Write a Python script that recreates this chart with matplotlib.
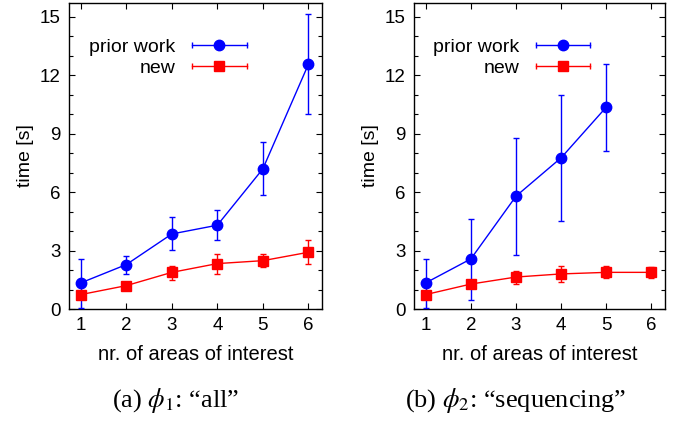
import numpy as np
import matplotlib.pyplot as plt
from matplotlib.lines import Line2D
from matplotlib.legend_handler import HandlerLine2D, HandlerTuple
from matplotlib.ticker import MultipleLocator

plt.rcParams['font.family'] = ['Liberation Sans', 'DejaVu Sans']
plt.rcParams['mathtext.fontset'] = 'stix'

areas = [1, 2, 3, 4, 5, 6]

# (a) phi_1 "all"
prior_a = [1.34, 2.28, 3.85, 4.30, 7.19, 12.55]
prior_a_lo = [0.05, 1.80, 3.05, 3.56, 5.87, 9.98]
prior_a_hi = [2.57, 2.74, 4.73, 5.07, 8.58, 15.12]
new_a = [0.74, 1.20, 1.88, 2.33, 2.48, 2.91]
new_a_lo = [0.55, 1.08, 1.51, 1.82, 2.14, 2.33]
new_a_hi = [0.92, 1.32, 2.23, 2.84, 2.84, 3.53]

# (b) phi_2 "sequencing"
areas_b = [1, 2, 3, 4, 5]
prior_b = [1.34, 2.57, 5.79, 7.76, 10.36]
prior_b_lo = [0.05, 0.48, 2.79, 4.54, 8.13]
prior_b_hi = [2.57, 4.62, 8.78, 10.98, 12.59]
new_b = [0.74, 1.28, 1.64, 1.80, 1.88, 1.88]
new_b_lo = [0.55, 1.12, 1.30, 1.39, 1.59, 1.59]
new_b_hi = [0.92, 1.44, 1.93, 2.19, 2.19, 2.14]

captions = [r'(a) $\phi_1$: “all”', r'(b) $\phi_2$: “sequencing”']

BLUE = '#0000ff'
RED = '#ff0000'

fig = plt.figure(figsize=(6.85, 4.23), dpi=100)
ax_a = fig.add_axes([69/685, 1 - 309/423, 253/685, 306/423])
ax_b = fig.add_axes([414/685, 1 - 309/423, 251/685, 306/423])


def draw(ax, xp, yp, plo, phi, yn, nlo, nhi):
    xp = np.array(xp)
    yp = np.array(yp)
    xn = np.array(areas[:len(yn)])
    yn = np.array(yn)
    ax.errorbar(xp, yp, yerr=[yp - np.array(plo), np.array(phi) - yp],
                color=BLUE, marker='o', ms=7.5, lw=1, elinewidth=1,
                capsize=2.5, capthick=1, zorder=3)
    ax.errorbar(xn, yn, yerr=[yn - np.array(nlo), np.array(nhi) - yn],
                color=RED, marker='s', ms=7.5, lw=1, elinewidth=1,
                capsize=2.5, capthick=1, zorder=4)
    ax.set_xlim(0.74, 6.3)
    ax.set_ylim(0, 15.7)
    ax.set_xticks(areas)
    ax.yaxis.set_major_locator(MultipleLocator(3))
    ax.yaxis.set_minor_locator(MultipleLocator(1))
    ax.tick_params(which='both', direction='in', top=True, right=True,
                   labelsize=13.5, width=0.8, pad=6)
    ax.tick_params(which='major', length=4)
    ax.tick_params(which='minor', length=3)
    for s in ax.spines.values():
        s.set_linewidth(1)
    ax.set_ylabel('time [s]', fontsize=14, labelpad=4)
    ax.set_xlabel('nr. of areas of interest', fontsize=14.5, labelpad=8)

    handles = []
    hmap = {}
    for c, m in [(BLUE, 'o'), (RED, 's')]:
        bar = Line2D([], [], color=c, lw=1, marker='|', ms=5, mew=1)
        pt = Line2D([], [], color=c, lw=0, marker=m, ms=7.5)
        hmap[bar] = HandlerLine2D(numpoints=2)
        hmap[pt] = HandlerLine2D(numpoints=1)
        handles.append((bar, pt))
    hmap[tuple] = HandlerTuple(ndivide=1, pad=0)
    ax.legend(handles, ['prior work', 'new'], handler_map=hmap,
              loc='center right', bbox_to_anchor=(0.725, 0.822), frameon=False,
              markerfirst=False, fontsize=14, handlelength=3.4,
              handletextpad=0.55, labelspacing=0.16, borderaxespad=0,
              borderpad=0)


draw(ax_a, areas, prior_a, prior_a_lo, prior_a_hi, new_a, new_a_lo, new_a_hi)
draw(ax_b, areas_b, prior_b, prior_b_lo, prior_b_hi, new_b, new_b_lo, new_b_hi)

for xc, cap in zip([176/685, 515/685], captions):
    fig.text(xc, 1 - 400/423, cap, ha='center', va='center', fontsize=19,
             family=['Liberation Serif', 'DejaVu Serif'])

fig.savefig('out.png', dpi=100)
